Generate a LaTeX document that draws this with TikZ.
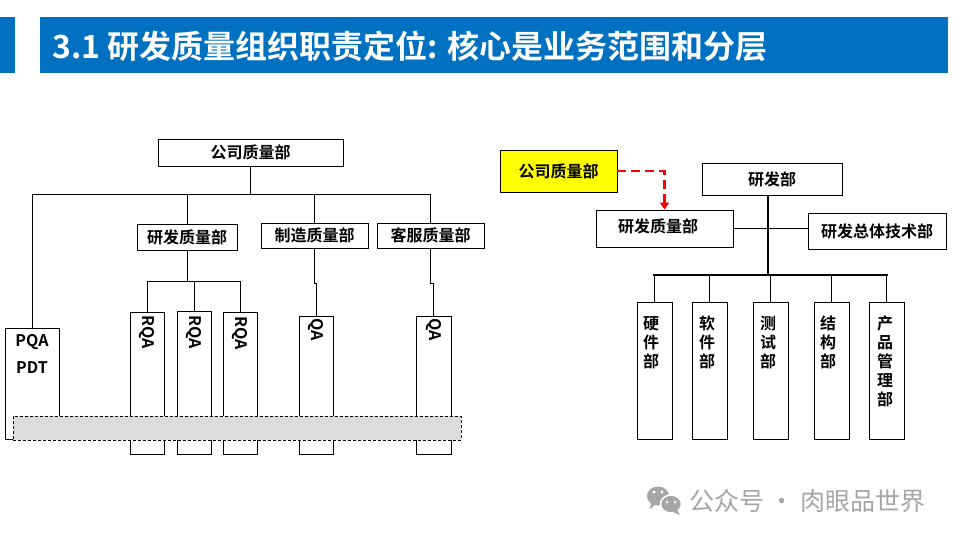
\documentclass[tikz,border=0pt]{standalone}
\usepackage{fontspec}
\setmainfont{Noto Sans CJK SC}[BoldFont={Noto Sans CJK SC Bold}]
\usetikzlibrary{arrows.meta}
\definecolor{titleblue}{HTML}{0070C0}
\definecolor{bargray}{HTML}{DCDCDC}
\definecolor{wmgray}{HTML}{A6A6A6}
\definecolor{hlyellow}{HTML}{FFFF00}
\begin{document}
\begin{tikzpicture}[x=1pt,y=-1pt,
  box/.style={draw=black, line width=0.9pt, fill=white, inner sep=0pt, font=\bfseries\fontsize{16}{18}\selectfont},
  conn/.style={line width=0.9pt},
  lbl/.style={inner sep=0pt, font=\bfseries\fontsize{16}{18}\selectfont},
  vlbl/.style={lbl, rotate=-90},
  stack/.style={inner sep=0pt, align=center, anchor=north, font=\bfseries\fontsize{16}{19}\selectfont},
  busline/.style={line width=2.2pt},
  titlebar/.style={fill=titleblue, draw=none}
]
\useasboundingbox (0,0) rectangle (960,540);
\fill[white] (0,0) rectangle (960,540);

% ---------- title ----------
\fill[titlebar] (0,17) rectangle (15,73);
\fill[titlebar] (40,17) rectangle (948,73);
\node[anchor=west, inner sep=0pt, text=white, font=\bfseries\fontsize{32}{36}\selectfont] (title) at (52,46) {3.1 研发质量组织职责定位: 核心是业务范围和分层};

% ---------- left chart ----------
\node[box, minimum width=185pt, minimum height=27pt] (cq) at (250.5,152.5) {公司质量部};
\node[box, minimum width=100pt, minimum height=26pt] (rd) at (187,237) {研发质量部};
\node[box, minimum width=107pt, minimum height=25pt] (mf) at (314.5,235.5) {制造质量部};
\node[box, minimum width=107pt, minimum height=25pt] (cs) at (430.5,235.5) {客服质量部};

\node[box, minimum width=54pt, minimum height=111pt] (pqa) at (32,383.5) {};
\node[box, minimum width=34pt, minimum height=142pt] (rqa1) at (147,383) {};
\node[box, minimum width=34pt, minimum height=143pt] (rqa2) at (194,382.5) {};
\node[box, minimum width=34pt, minimum height=142pt] (rqa3) at (240,383) {};
\node[box, minimum width=34pt, minimum height=138pt] (qa1) at (316,385) {};
\node[box, minimum width=35pt, minimum height=138pt] (qa2) at (433.5,385) {};

\draw[conn] (cq.south) -- ++(0,28) coordinate (j1);
\draw[conn] (pqa.north) |- (cs.north |- j1) -- (cs.north);
\draw[conn] (rd.north) -- (rd.north |- j1);
\draw[conn] (mf.north) -- (mf.north |- j1);
\draw[conn] (rd.south) -- ++(0,31) coordinate (j2);
\draw[conn] (rqa1.north) |- (rqa3.north |- j2) -- (rqa3.north);
\draw[conn] (rqa2.north) -- (rqa2.north |- j2);
\draw[conn] (mf.south) -- ++(0,35) -| (qa1.north);
\draw[conn] (cs.south) -- ++(0,35) -| (qa2.north);

\node[draw=black, dash pattern=on 3pt off 2pt, line width=0.8pt, fill=bargray, minimum width=448pt, minimum height=24pt, inner sep=0pt] (gbar) at (237,428) {};

\node[lbl] (tpqa) at (32,342) {PQA};
\node[lbl] (tpdt) at (32,368) {PDT};
\node[vlbl] (trqa1) at (147,332) {RQA};
\node[vlbl] (trqa2) at (194,332) {RQA};
\node[vlbl] (trqa3) at (240,333) {RQA};
\node[vlbl] (tqa1) at (316,330) {QA};
\node[vlbl] (tqa2) at (433.5,330) {QA};

% ---------- right chart ----------
\node[box, fill=hlyellow, minimum width=117pt, minimum height=42pt] (ycq) at (558.5,171) {公司质量部};
\node[box, minimum width=140pt, minimum height=32pt] (rdb) at (772,179) {研发部};
\node[box, minimum width=137pt, minimum height=37pt] (rdq) at (664.5,228.5) {};
\node[lbl] (trdq) at (658,226) {研发质量部};
\node[box, minimum width=138pt, minimum height=36pt] (rdt) at (877,231) {研发总体技术部};

\node[box, minimum width=35pt, minimum height=137pt] (d1) at (654.5,370.5) {};
\node[box, minimum width=35pt, minimum height=137pt] (d2) at (709.5,370.5) {};
\node[box, minimum width=35pt, minimum height=137pt] (d3) at (770.5,370.5) {};
\node[box, minimum width=35pt, minimum height=137pt] (d4) at (831.5,370.5) {};
\node[box, minimum width=35pt, minimum height=137pt] (d5) at (886.5,370.5) {};

\node[stack] (td1) at (651,316) {硬\\件\\部};
\node[stack] (td2) at (707,316) {软\\件\\部};
\node[stack] (td3) at (768,316) {测\\试\\部};
\node[stack] (td4) at (828,316) {结\\构\\部};
\node[stack] (td5) at (885,316) {产\\品\\管\\理\\部};

\coordinate (vb) at (768,275);
\draw[conn] (rdq.east) -- (rdq.east -| rdt.west);
\draw[busline] (vb |- rdb.south) -- (vb);
\draw[busline] ([xshift=-1.1pt]d1.north |- vb) -- ([xshift=1.1pt]d5.north |- vb);
\foreach \d in {d1,d2,d3,d4,d5} { \draw[conn] (\d.north) -- (\d.north |- vb); }

\draw[red, line width=2.5pt, dash pattern=on 9pt off 5pt, -{Triangle[length=7pt,width=9pt]}] (ycq.east) -| (rdq.north);

% ---------- watermark ----------
\fill[wmgray] (658,496) ellipse [x radius=11pt, y radius=9.5pt];
\fill[wmgray] (651,503) -- (650,509) -- (656,504) -- cycle;
\filldraw[fill=wmgray, draw=white, line width=1.5pt] (671,504) ellipse [x radius=10.5pt, y radius=9pt];
\fill[wmgray] (677,510) -- (680,515) -- (673,512) -- cycle;
\fill[white] (654,492) circle [radius=1.6pt] (662,492) circle [radius=1.6pt];
\fill[white] (667,502) circle [radius=1.3pt] (675,502) circle [radius=1.3pt];
\node[anchor=west, inner sep=0pt, text=wmgray, font=\fontsize{25}{28}\selectfont] (wm) at (689,501) {公众号 · 肉眼品世界};
\end{tikzpicture}
\end{document}
